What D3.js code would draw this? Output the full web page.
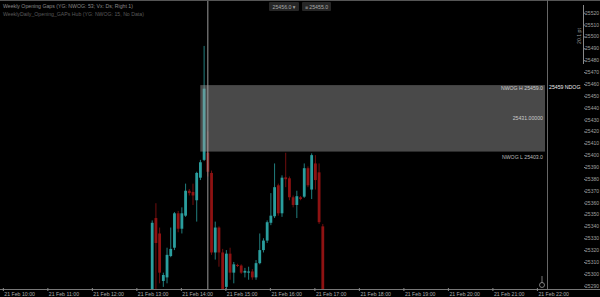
<!DOCTYPE html>
<html>
<head>
<meta charset="utf-8">
<title>Opening gaps</title>
<script src="https://d3js.org/d3.v7.min.js"></script>
<style>
  html, body { margin: 0; padding: 0; background: #000; overflow: hidden; }
  svg { display: block; font-family: "Liberation Sans", "DejaVu Sans", sans-serif; }
</style>
</head>
<body>
<svg id="chart" width="600" height="297"></svg>
<script>
// candles: open, high, low, close (index = position from first candle)
var opens  = [25282,25347,25334,25294,25297,25315,25322,25351,25338,25349,25370,25369,25362,25381,25396,
              25402,25385,25318,25339,25318,25289,25317,25301,25307.5,25307,25301,25301,25302,25297,25309,
              25320,25328,25343,25348.5,25374.6,25351,25381.3,25380.5,25364.5,25358,25364.5,25365,25389,25371,
              25393,25385.5,25340];
var highs  = [25345,25359.5,25339,25301,25322,25339,25352,25353,25356,25376,25371.5,25376,25386,25396,25492,
              25420,25387,25344,25340,25321,25320,25322,25310,25308.5,25308,25305,25306,25304,25311.6,25334,
              25330,25345,25368,25393,25376,25383,25402,25382,25366,25370,25365.5,25393,25390.5,25401.5,
              25400,25393,25342];
var lows   = [25278,25285,25292,25289,25292,25314,25320,25335,25334,25348,25366,25358,25344,25379,25395,
              25382,25316,25312,25306,25280,25287,25295,25292,25305.7,25300,25297,25295,25295,25295,25308,
              25318,25326,25341,25347,25349,25348,25373,25362,25356,25347,25362,25364,25373,25363,
              25371,25342,25280];
var closes = [25343,25326,25301,25299,25316,25321,25351,25338,25351,25370,25368,25366,25385,25394,25456,
              25386,25318,25339,25318,25284,25317,25301,25308,25306.6,25301,25302.5,25302,25297,25309,25320,
              25328,25343.5,25349,25373,25351,25381,25379.7,25364.5,25358,25365.4,25363,25389,25374.6,25400,
              25379,25343.5,25280];

// price axis labels
var priceTicks = d3.range(25290, 25521, 10);

// time axis: candle index of each label and its text
var timeTickIdx = [-40,-28,-16,-4,8,20,32,44,56,68,80,92,104];
var timeTickTxt = ["21 Feb 10:00","21 Feb 11:00","21 Feb 12:00","21 Feb 13:00","21 Feb 14:00","21 Feb 15:00",
                   "21 Feb 16:00","21 Feb 17:00","21 Feb 18:00","21 Feb 19:00","21 Feb 20:00","21 Feb 21:00","21 Feb 22:00"];

// weekly opening gap zone
var gapStart = 13.1, gapHigh = 25459, gapMid = 25431, gapLow = 25403;
var markerIdx = 15;
var lastPrice = 25456;

var W = 600, H = 297, axisX = 547, axisY = 289;

var x = d3.scaleLinear().domain([0, 46]).range([151.7, 322.3]);
var y = d3.scaleLinear().domain([25290, 25520]).range([285.7, 12.7]);

var svg = d3.select("#chart");
svg.append("rect").attr("width", W).attr("height", H).attr("fill", "#000");

svg.append("defs").append("clipPath").attr("id", "plot")
  .append("rect").attr("x", 0).attr("y", 1).attr("width", axisX).attr("height", axisY - 1);

var plot = svg.append("g").attr("clip-path", "url(#plot)");

var candles = opens.map(function(o, i) {
  return { i: i, o: o, h: highs[i], l: lows[i], c: closes[i] };
});

function col(d) { return d.c >= d.o ? "#2a9e9e" : "#8e1212"; }

var cg = plot.selectAll("g.candle").data(candles).enter().append("g").attr("class", "candle");
cg.append("line")
  .attr("x1", function(d){ return x(d.i) + 0.5 }).attr("x2", function(d){ return x(d.i) + 0.5 })
  .attr("y1", function(d){ return y(d.h) }).attr("y2", function(d){ return y(d.l) })
  .attr("stroke", col).attr("stroke-width", 0.8);
cg.append("rect")
  .attr("x", function(d){ return x(d.i) - 0.9 })
  .attr("width", 2.8)
  .attr("y", function(d){ return y(Math.max(d.o, d.c)) })
  .attr("height", function(d){ return Math.max(1, Math.abs(y(d.o) - y(d.c))) })
  .attr("fill", col);

// gap zone
plot.append("rect")
  .attr("x", x(gapStart)).attr("y", y(gapHigh))
  .attr("width", axisX - 2 - x(gapStart)).attr("height", y(gapLow) - y(gapHigh))
  .attr("fill", "#a0a0a0").attr("fill-opacity", 0.46);

// vertical marker line
svg.append("line")
  .attr("x1", x(markerIdx) + 0.5).attr("x2", x(markerIdx) + 0.5)
  .attr("y1", 0).attr("y2", axisY)
  .attr("stroke", "#9a9a9a").attr("stroke-width", 1);

// gap labels
var gl = svg.append("g").attr("font-size", 5.2).attr("text-anchor", "end");
gl.append("text").attr("x", axisX - 4).attr("y", y(gapHigh) + 5).attr("fill", "#ccc").text("NWOG H " + gapHigh.toFixed(1));
gl.append("text").attr("x", axisX - 4).attr("y", y(gapMid) + 2).attr("fill", "#ccc").text(gapMid.toFixed(5));
gl.append("text").attr("x", axisX - 4).attr("y", y(gapLow) + 7).attr("fill", "#bbb").text("NWOG L " + gapLow.toFixed(1));
svg.append("text").attr("x", axisX + 2).attr("y", y(gapHigh) + 4).attr("font-size", 5.2)
  .attr("fill", "#eee").text(gapHigh + " NDOG");

// frame lines
svg.append("line").attr("x1", 0).attr("x2", W).attr("y1", 0.5).attr("y2", 0.5).attr("stroke", "#555");
svg.append("line").attr("x1", axisX + 0.5).attr("x2", axisX + 0.5).attr("y1", 0).attr("y2", axisY).attr("stroke", "#666");
svg.append("line").attr("x1", 0).attr("x2", W).attr("y1", axisY + 0.5).attr("y2", axisY + 0.5).attr("stroke", "#777");

// price axis
var pa = svg.append("g").attr("font-size", 5).attr("fill", "#a0a0a0").attr("text-anchor", "end");
pa.selectAll("text").data(priceTicks).enter().append("text")
  .attr("x", 599).attr("y", function(d){ return y(d) + 2 })
  .text(function(d){ return d });
pa.selectAll("line").data(priceTicks).enter().append("line")
  .attr("x1", 584).attr("x2", 585.5).attr("y1", function(d){ return y(d) + 0.5 }).attr("y2", function(d){ return y(d) + 0.5 })
  .attr("stroke", "#888");

// ruler at top right
svg.append("line").attr("x1", 583.5).attr("x2", 583.5).attr("y1", 5).attr("y2", 64).attr("stroke", "#888");
svg.append("text").attr("transform", "translate(581,44) rotate(-90)").attr("font-size", 5.2)
  .attr("fill", "#999").text("20.1 pt");

// time axis
var ta = svg.append("g").attr("font-size", 5.2).attr("fill", "#aaa");
var tt = ta.selectAll("g").data(timeTickIdx).enter().append("g")
  .attr("transform", function(d){ return "translate(" + x(d) + "," + axisY + ")" });
tt.append("line").attr("y1", -1).attr("y2", 2).attr("stroke", "#888");
tt.append("text").attr("x", 1).attr("y", 6.5).text(function(d, i){ return timeTickTxt[i] });

// small icon bottom right
svg.append("circle").attr("cx", 542).attr("cy", 285).attr("r", 2.5).attr("fill", "none").attr("stroke", "#aaa").attr("stroke-width", 0.7);
svg.append("line").attr("x1", 542).attr("x2", 542).attr("y1", 276).attr("y2", 283).attr("stroke", "#aaa").attr("stroke-width", 0.7);

// title
svg.append("text").attr("x", 3).attr("y", 8).attr("font-size", 5.2).attr("fill", "#8a8a8a")
  .text("Weekly Opening Gaps (YG: NWOG: 53; Vx: Ds; Right 1)");
svg.append("text").attr("x", 3).attr("y", 16).attr("font-size", 5.2).attr("fill", "#5a5a5a")
  .text("WeeklyDaily_Opening_GAPs Hub (YG: NWOG: 15, No Data)");

// buttons
var btns = [{ x: 269, w: 30, t: lastPrice + ".0 \u25BE" }, { x: 302, w: 29, t: "\u2261 " + (lastPrice - 1) + ".0" }];
var bg = svg.selectAll("g.btn").data(btns).enter().append("g").attr("class", "btn");
bg.append("rect").attr("x", function(d){ return d.x }).attr("y", 2).attr("width", function(d){ return d.w })
  .attr("height", 9).attr("fill", "#262626").attr("rx", 1);
bg.append("text").attr("x", function(d){ return d.x + d.w / 2 }).attr("y", 8.5).attr("text-anchor", "middle")
  .attr("font-size", 5.2).attr("fill", "#aaa").text(function(d){ return d.t });
</script>
</body>
</html>
